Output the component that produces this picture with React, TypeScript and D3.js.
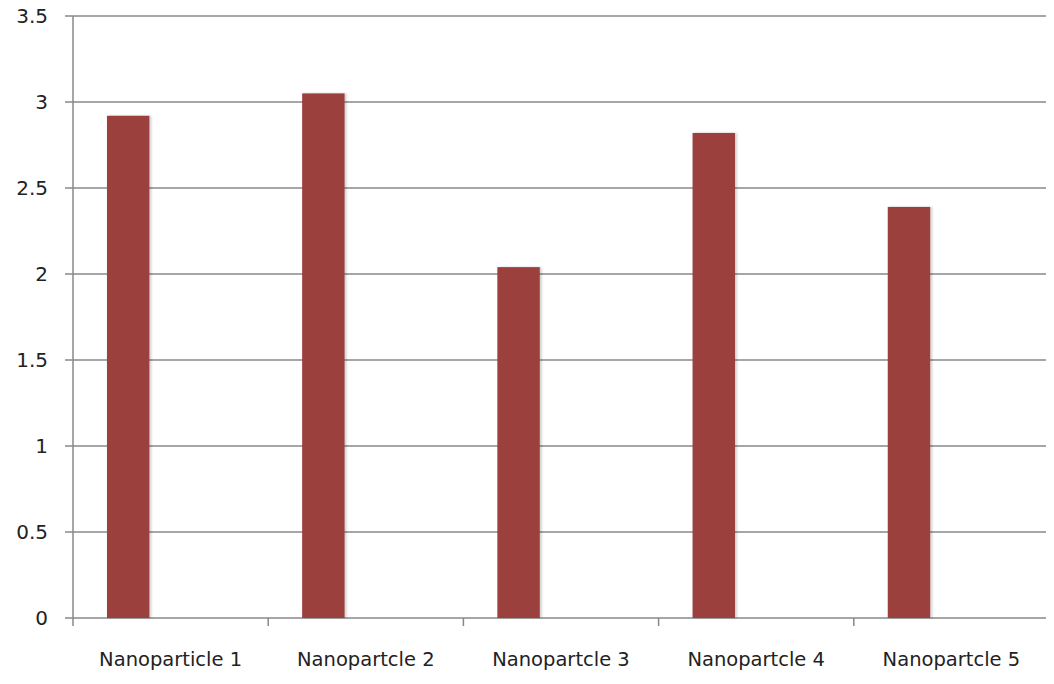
import React from 'react';
import * as d3 from 'd3';

const categories = ['Nanoparticle 1', 'Nanopartcle 2', 'Nanopartcle 3', 'Nanopartcle 4', 'Nanopartcle 5'];
const values = [2.92, 3.05, 2.04, 2.82, 2.39];
// Excel-style cluster: one filled series plus two empty slots
const seriesSlots = ['s1', 's2', 's3'];
const yTicks = [0, 0.5, 1, 1.5, 2, 2.5, 3, 3.5];

const width = 1054;
const height = 684;
const margin = { top: 16, right: 5, bottom: 66, left: 73 };

const App: React.FC = () => {
  const innerW = width - margin.left - margin.right;
  const innerH = height - margin.top - margin.bottom;

  const x = d3.scaleBand<string>().domain(categories).range([0, innerW]).paddingInner(0).paddingOuter(0);
  const xSlot = d3.scaleBand<string>().domain(seriesSlots).range([0, x.bandwidth()]).paddingInner(0).paddingOuter(0.8);
  const y = d3.scaleLinear().domain([0, 3.5]).range([innerH, 0]);

  const barColor = '#9b3f3e';
  const gridColor = '#888888';
  const font = '"DejaVu Sans", Verdana, sans-serif';

  return (
    <svg width={width} height={height} style={{ display: 'block', margin: '-8px', background: '#fff' }}>
      <defs>
        <filter id="shadow" x="-20%" y="-5%" width="140%" height="110%">
          <feDropShadow dx="2" dy="0" stdDeviation="1.2" floodColor="#000" floodOpacity="0.18" />
        </filter>
      </defs>
      <g transform={`translate(${margin.left},${margin.top})`}>
        {/* Horizontal gridlines */}
        {yTicks.map(t => (
          <line key={`g${t}`} x1={-8} x2={innerW} y1={y(t)} y2={y(t)} stroke={gridColor} strokeWidth={1.5} />
        ))}

        {/* Y axis */}
        <line x1={0} x2={0} y1={0} y2={innerH + 8} stroke={gridColor} strokeWidth={1.5} />
        {yTicks.map(t => (
          <text key={`t${t}`} x={-25} y={y(t)} dy="0.36em" textAnchor="end" fontFamily={font} fontSize={20} fill="#222">
            {t}
          </text>
        ))}

        {/* Category tick marks */}
        {categories.map(c => (
          <line key={`ct${c}`} x1={(x(c) ?? 0) + x.bandwidth()} x2={(x(c) ?? 0) + x.bandwidth()} y1={innerH} y2={innerH + 8} stroke={gridColor} strokeWidth={1.5} />
        ))}

        {/* Bars */}
        {categories.map((c, i) => (
          <rect
            key={`b${c}`}
            x={(x(c) ?? 0) + (xSlot('s1') ?? 0)}
            y={y(values[i])}
            width={xSlot.bandwidth()}
            height={innerH - y(values[i])}
            fill={barColor}
            filter="url(#shadow)"
          />
        ))}

        {/* Category labels */}
        {categories.map(c => (
          <text key={`l${c}`} x={(x(c) ?? 0) + x.bandwidth() / 2} y={innerH + 48} textAnchor="middle" fontFamily={font} fontSize={19.5} fill="#222">
            {c}
          </text>
        ))}
      </g>
    </svg>
  );
};

export default App;
